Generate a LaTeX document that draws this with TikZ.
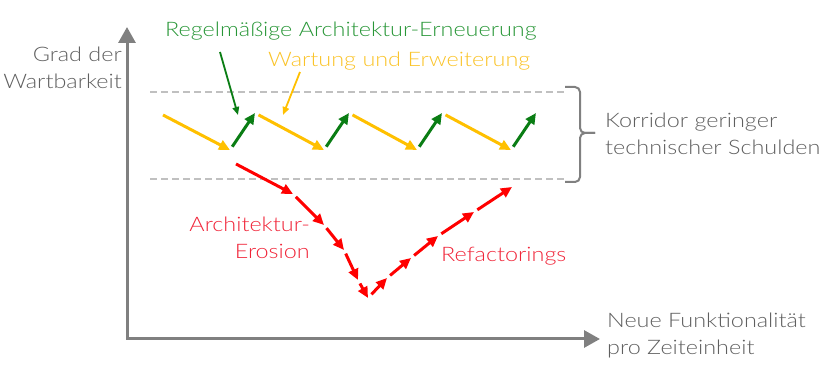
\documentclass[tikz,border=0pt]{standalone}
\usepackage{fontspec}
\setmainfont{Lato}[UprightFont={* Light}, FakeStretch=1.17]
\usetikzlibrary{arrows.meta}
\definecolor{axisgrey}{RGB}{128,128,128}
\definecolor{dashgrey}{RGB}{192,192,192}
\definecolor{textgrey}{RGB}{95,95,95}
\definecolor{amber}{RGB}{255,192,0}
\definecolor{amberlabel}{RGB}{250,195,40}
\definecolor{leafgreen}{RGB}{10,125,20}
\definecolor{leaflabel}{RGB}{40,150,55}
\definecolor{signalred}{RGB}{255,0,0}
\definecolor{signallabel}{RGB}{240,35,55}

\begin{document}
\begin{tikzpicture}[x=1pt,y=-1pt,
    lbl/.style={inner sep=0pt, font=\fontsize{20}{27}\selectfont},
    zig/.style={line width=3pt, shorten <=4pt, -{Triangle[length=11pt,width=10pt]}},
    pointer/.style={line width=1.8pt, -{Triangle[length=8pt,width=6.5pt]}}]
\useasboundingbox (0,0) rectangle (831,387);

% axes
\coordinate (ytip) at (127,27);
\coordinate (origin) at (127,339);
\coordinate (xtip) at (600,339);
\draw[axisgrey, line width=3pt, line join=miter,
      {Triangle[length=16pt,width=17pt]}-{Triangle[length=16pt,width=17pt]}]
      (ytip) -- (origin) -- (xtip);

\node[lbl, textgrey, align=right, anchor=north east] (ylabel) at (122,47) {Grad der\\Wartbarkeit};
\node[lbl, textgrey, align=left, anchor=north west] (xlabel) at (607,313) {Neue Funktionalität\\pro Zeiteinheit};

% corridor
\draw[dashgrey, line width=1.5pt, dash pattern=on 7pt off 4pt] (150,92) -- (566,92);
\draw[dashgrey, line width=1.5pt, dash pattern=on 7pt off 4pt] (150,179) -- (566,179);
\coordinate (brtop) at (565,87);
\coordinate (brmid) at (595,133);
\coordinate (brbot) at (565,182);
\draw[axisgrey, line width=2pt, rounded corners=5pt]
      (brtop) -- (580,87) -- (580,133) -- (brmid);
\draw[axisgrey, line width=2pt, rounded corners=5pt]
      (brmid) -- (580,133) -- (580,182) -- (brbot);
\node[lbl, textgrey, align=left, anchor=north west] (corridor) at (605,113) {Korridor geringer\\technischer Schulden};

% maintenance and renewal
\coordinate (z0) at (163,115);
\coordinate (z1) at (230,150);
\coordinate (z2) at (255,113);
\coordinate (z3) at (324,150);
\coordinate (z4) at (349,113);
\coordinate (z5) at (417,150);
\coordinate (z6) at (442,113);
\coordinate (z7) at (511,150);
\coordinate (z8) at (536,113);
\draw[zig, amber, shorten <=0pt] (z0) -- (z1);
\draw[zig, leafgreen] (z1) -- (z2);
\draw[zig, amber] (z2) -- (z3);
\draw[zig, leafgreen] (z3) -- (z4);
\draw[zig, amber] (z4) -- (z5);
\draw[zig, leafgreen] (z5) -- (z6);
\draw[zig, amber] (z6) -- (z7);
\draw[zig, leafgreen] (z7) -- (z8);

\node[lbl, leaflabel, anchor=north west] (renewal) at (165,22) {Regelmäßige Architektur-Erneuerung};
\node[lbl, amberlabel, anchor=north west] (upkeep) at (268,52) {Wartung und Erweiterung};
\coordinate (renewalfoot) at (220,52);
\coordinate (upkeepfoot) at (300,72);
\draw[pointer, leafgreen] (renewalfoot) -- (238,115);
\draw[pointer, amber] (upkeepfoot) -- (283,115);

% erosion
\coordinate (e0) at (236,164);
\coordinate (e1) at (293,194);
\coordinate (e2) at (324,225);
\coordinate (e3) at (344,250);
\coordinate (e4) at (358,280);
\coordinate (e5) at (368,298);
\draw[zig, signalred, shorten <=0pt] (e0) -- (e1);
\draw[zig, signalred] (e1) -- (e2);
\draw[zig, signalred] (e2) -- (e3);
\draw[zig, signalred] (e3) -- (e4);
\draw[zig, signalred] (e4) -- (e5);

% refactorings
\coordinate (f1) at (387,278);
\coordinate (f2) at (411,258);
\coordinate (f3) at (438,236);
\coordinate (f4) at (474,212);
\coordinate (f5) at (512,187);
\draw[zig, signalred, shorten <=5pt] (e5) -- (f1);
\draw[zig, signalred] (f1) -- (f2);
\draw[zig, signalred] (f2) -- (f3);
\draw[zig, signalred] (f3) -- (f4);
\draw[zig, signalred] (f4) -- (f5);

\node[lbl, signallabel, align=right, anchor=north east] (erosion) at (310,217) {Architektur-\\Erosion};
\node[lbl, signallabel, anchor=north west] (refactor) at (441,247) {Refactorings};

\end{tikzpicture}
\end{document}
